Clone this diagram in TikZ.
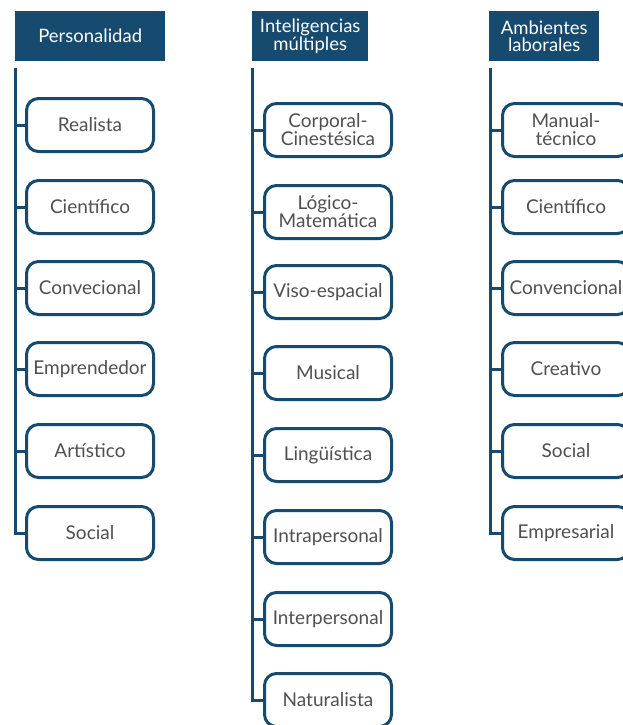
\documentclass[tikz,border=0pt]{standalone}
\usepackage{fontspec}
\setmainfont{Lato}
\definecolor{navy}{HTML}{164A6E}
\definecolor{txt}{HTML}{505050}
\begin{document}
\begin{tikzpicture}[x=1pt,y=-1pt,
  head/.style={fill=navy,text=white,font=\fontsize{18.5}{17}\selectfont,align=center,inner sep=0pt,minimum height=50pt,anchor=north west},
  item/.style={draw=navy,line width=3pt,rounded corners=12pt,fill=white,text=txt,font=\fontsize{19}{18}\selectfont,align=center,minimum width=127pt,minimum height=53pt,inner sep=0pt},
  link/.style={draw=navy,line width=3pt}]
\clip (0,0) rectangle (623,725);
\fill[white] (0,0) rectangle (623,725);
% headers
\node[head,minimum width=150pt] (h1) at (15,11) {Personalidad};
\node[head,minimum width=116pt] (h2) at (252,11) {Inteligencias\\múltiples};
\node[head,minimum width=110pt] (h3) at (489,11) {Ambientes\\laborales};
% column 1
\coordinate (t1) at (15,68);
\node[item] (a1) at (90,125) {Realista};
\node[item] (a2) at (90,207) {Científico};
\node[item] (a3) at (90,288) {Convecional};
\node[item] (a4) at (90,369) {Emprendedor};
\node[item] (a5) at (90,451) {Artístico};
\node[item] (a6) at (90,533) {Social};
\draw[link] (t1) |- (a6.west);
\foreach \i in {1,...,5}{\draw[link] (a\i.west) -- (15,0 |- a\i.west);}
% column 2
\coordinate (t2) at (252,68);
\node[item] (b1) at (328,130) {Corporal-\\Cinestésica};
\node[item] (b2) at (328,212) {Lógico-\\Matemática};
\node[item] (b3) at (328,292) {Viso-espacial};
\node[item] (b4) at (328,373) {Musical};
\node[item] (b5) at (328,455) {Lingüística};
\node[item] (b6) at (328,537) {Intrapersonal};
\node[item] (b7) at (328,619) {Interpersonal};
\node[item] (b8) at (328,700) {Naturalista};
\draw[link] (t2) |- (b8.west);
\foreach \i in {1,...,7}{\draw[link] (b\i.west) -- (252,0 |- b\i.west);}
% column 3
\coordinate (t3) at (490,68);
\node[item] (c1) at (566,130) {Manual-\\técnico};
\node[item] (c2) at (566,207) {Científico};
\node[item] (c3) at (566,288) {Convencional};
\node[item] (c4) at (566,369) {Creativo};
\node[item] (c5) at (566,451) {Social};
\node[item] (c6) at (566,533) {Empresarial};
\draw[link] (t3) |- (c6.west);
\foreach \i in {1,...,5}{\draw[link] (c\i.west) -- (490,0 |- c\i.west);}
\end{tikzpicture}
\end{document}
